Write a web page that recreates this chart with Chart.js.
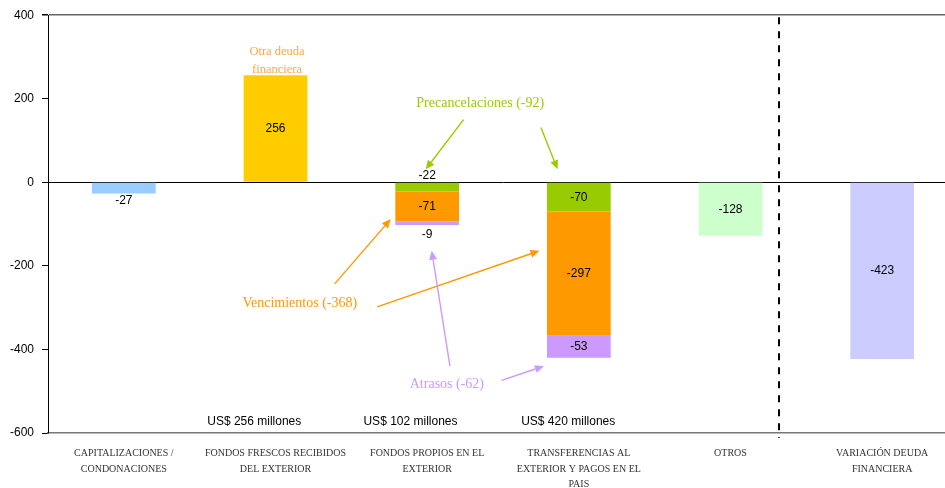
<!DOCTYPE html>
<html>
<head>
<meta charset="utf-8">
<script src="https://cdn.jsdelivr.net/npm/chart.js@4/dist/chart.umd.min.js"></script>
<style>
  html, body { margin: 0; padding: 0; background: #fff; overflow: hidden; }
  #wrap { width: 945px; height: 488px; position: relative; overflow: hidden; }
  #chart { display: block; }
</style>
</head>
<body>
<div id="wrap"><canvas id="chart" width="958" height="488"></canvas></div>
<script>
// Categories and values
const categories = [
  ["CAPITALIZACIONES /", "CONDONACIONES"],
  ["FONDOS FRESCOS RECIBIDOS", "DEL EXTERIOR"],
  ["FONDOS PROPIOS EN EL", "EXTERIOR"],
  ["TRANSFERENCIAS AL", "EXTERIOR Y PAGOS EN EL", "PAIS"],
  ["OTROS"],
  ["VARIACIÓN DEUDA", "FINANCIERA"]
];
const singleValues = [-27, 256, null, null, -128, -423];
const singleColors = ["#99CCFF", "#FFCC00", "#FFFFFF", "#FFFFFF", "#CCFFCC", "#CCCCFF"];
const precancelaciones = [null, null, -22, -70, null, null];
const vencimientos = [null, null, -71, -297, null, null];
const atrasos = [null, null, -9, -53, null, null];
const yTicks = [400, 200, 0, -200, -400, -600];
const totals = ["US$ 256 millones", "US$ 102 millones", "US$ 420 millones"];
const totalsAt = [0.86, 1.89, 2.93];

// Annotation texts and arrows, in data units (category index, value)
const notes = [
  { text: ["Otra deuda", "financiera"], x: 1.01, y: 312, color: "#FFA640", size: 12.5 },
  { text: ["Precancelaciones (-92)"], x: 2.35, y: 188, color: "#99CC00", size: 14 },
  { text: ["Vencimientos (-368)"], x: 1.16, y: -290, color: "#FF9900", size: 14 },
  { text: ["Atrasos (-62)"], x: 2.13, y: -483, color: "#CC99FF", size: 14 }
];
const arrows = [
  { from: [2.24, 150], to: [1.99, 31], color: "#99CC00" },
  { from: [2.75, 131], to: [2.86, 31], color: "#99CC00" },
  { from: [1.39, -243], to: [1.76, -88], color: "#FF9900" },
  { from: [1.67, -298], to: [2.74, -164], color: "#FF9900" },
  { from: [2.15, -440], to: [2.03, -164], color: "#CC99FF" },
  { from: [2.49, -474], to: [2.77, -440], color: "#CC99FF" }
];
const dividerAt = 4.32;

Chart.defaults.font.family = "'Liberation Sans', Arial, sans-serif";
Chart.defaults.color = "#000";

// Value labels in / near each bar segment
const valueLabels = {
  id: "valueLabels",
  afterDatasetsDraw(chart) {
    const ctx = chart.ctx;
    const sets = chart.data.datasets;
    ctx.save();
    ctx.font = "12px 'Liberation Sans', Arial, sans-serif";
    ctx.fillStyle = "#000";
    ctx.textAlign = "center";
    sets.forEach(function (ds, di) {
      const meta = chart.getDatasetMeta(di);
      meta.data.forEach(function (bar, i) {
        const v = ds.data[i];
        if (v === null || v === undefined) return;
        const top = Math.min(bar.base, bar.y);
        const bottom = Math.max(bar.base, bar.y);
        if (bottom - top >= 16) {
          ctx.textBaseline = "middle";
          ctx.fillText(String(v), bar.x, (top + bottom) / 2);
          return;
        }
        const inStack = sets.filter(function (o) { return o.data[i] !== null; }).length > 1;
        const firstInStack = inStack && sets.findIndex(function (o) { return o.data[i] !== null; }) === di;
        if (firstInStack) {
          ctx.textBaseline = "bottom";
          ctx.fillText(String(v), bar.x, top - 1);
        } else {
          ctx.textBaseline = "top";
          ctx.fillText(String(v), bar.x, bottom + (inStack ? 4 : 1));
        }
      });
    });
    ctx.restore();
  }
};

function drawArrow(ctx, x1, y1, x2, y2, color) {
  const ang = Math.atan2(y2 - y1, x2 - x1);
  const len = 9, half = 4;
  ctx.strokeStyle = color;
  ctx.fillStyle = color;
  ctx.lineWidth = 1.4;
  ctx.beginPath();
  ctx.moveTo(x1, y1);
  ctx.lineTo(x2 - Math.cos(ang) * len, y2 - Math.sin(ang) * len);
  ctx.stroke();
  ctx.beginPath();
  ctx.moveTo(x2, y2);
  ctx.lineTo(x2 - Math.cos(ang) * len - Math.sin(ang) * half, y2 - Math.sin(ang) * len + Math.cos(ang) * half);
  ctx.lineTo(x2 - Math.cos(ang) * len + Math.sin(ang) * half, y2 - Math.sin(ang) * len - Math.cos(ang) * half);
  ctx.closePath();
  ctx.fill();
}

const annotations = {
  id: "annotations",
  afterDraw(chart) {
    const ctx = chart.ctx;
    const xs = chart.scales.x, ys = chart.scales.y;
    const area = chart.chartArea;
    ctx.save();

    // dashed divider
    const dx = xs.getPixelForValue(dividerAt);
    ctx.strokeStyle = "#000";
    ctx.lineWidth = 2;
    ctx.setLineDash([7, 7]);
    ctx.beginPath();
    ctx.moveTo(dx, area.top + 2);
    ctx.lineTo(dx, area.bottom + 5);
    ctx.stroke();
    ctx.setLineDash([]);

    // totals near the bottom
    ctx.font = "12px 'Liberation Sans', Arial, sans-serif";
    ctx.fillStyle = "#000";
    ctx.textAlign = "center";
    ctx.textBaseline = "middle";
    totals.forEach(function (t, i) {
      ctx.fillText(t, xs.getPixelForValue(totalsAt[i]), ys.getPixelForValue(-574));
    });

    // colored notes
    notes.forEach(function (n) {
      ctx.font = n.size + "px 'Liberation Serif', 'Times New Roman', serif";
      ctx.fillStyle = n.color;
      const px = xs.getPixelForValue(n.x);
      const py = ys.getPixelForValue(n.y);
      n.text.forEach(function (line, li) {
        ctx.fillText(line, px, py + li * 18);
      });
    });

    arrows.forEach(function (a) {
      drawArrow(ctx,
        xs.getPixelForValue(a.from[0]), ys.getPixelForValue(a.from[1]),
        xs.getPixelForValue(a.to[0]), ys.getPixelForValue(a.to[1]), a.color);
    });
    ctx.restore();
  }
};

const ctx = document.getElementById("chart").getContext("2d");
new Chart(ctx, {
  type: "bar",
  data: {
    labels: categories,
    datasets: [
      { label: "Total", data: singleValues, backgroundColor: singleColors },
      { label: "Precancelaciones", data: precancelaciones, backgroundColor: "#99CC00" },
      { label: "Vencimientos", data: vencimientos, backgroundColor: "#FF9900" },
      { label: "Atrasos", data: atrasos, backgroundColor: "#CC99FF" }
    ]
  },
  options: {
    responsive: false,
    animation: false,
    layout: { padding: { top: 13, right: 0, bottom: 0, left: 0 } },
    datasets: { bar: { categoryPercentage: 1, barPercentage: 0.42, borderWidth: 0 } },
    plugins: { legend: { display: false }, tooltip: { enabled: false } },
    scales: {
      x: {
        stacked: true,
        grid: { display: false },
        border: { color: "#777", width: 1.5 },
        ticks: {
          autoSkip: false,
          maxRotation: 0,
          minRotation: 0,
          padding: 5,
          color: "#333",
          font: { family: "'Liberation Serif', 'Times New Roman', serif", size: 10, lineHeight: 1.55 }
        },
        afterFit(scale) { scale.height = 55; }
      },
      y: {
        stacked: true,
        min: -600,
        max: 400,
        afterBuildTicks(scale) { scale.ticks = yTicks.map(function (v) { return { value: v }; }); },
        grid: {
          color: function (c) {
            if (c.tick.value === 0) return "#000";
            if (c.tick.value === 400) return "#666";
            return "rgba(0,0,0,0)";
          },
          lineWidth: function (c) { return c.tick.value === 400 ? 1.5 : 1; },
          tickColor: "#000",
          tickLength: 6
        },
        border: { color: "#000", width: 1 },
        ticks: { padding: 8, font: { size: 12 }, color: "#000" },
        afterFit(scale) { scale.width = 48; }
      }
    }
  },
  plugins: [valueLabels, annotations]
});
</script>
</body>
</html>
